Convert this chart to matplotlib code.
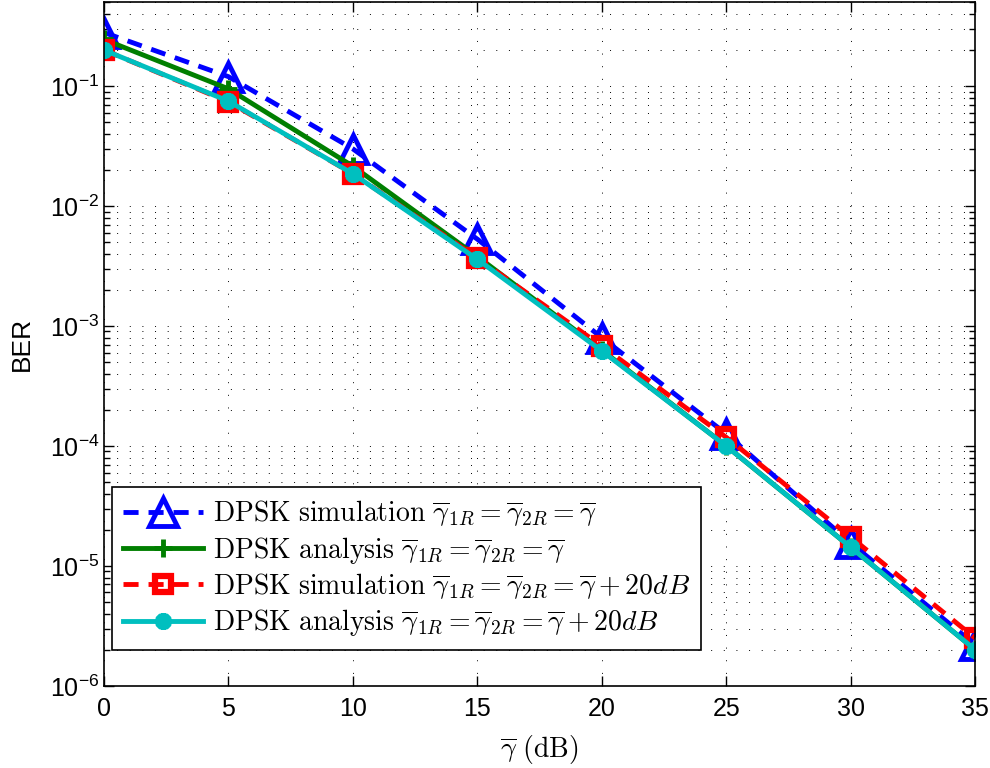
import numpy as np
import matplotlib
matplotlib.use("Agg")
import matplotlib.pyplot as plt
from matplotlib.font_manager import FontProperties
from matplotlib.ticker import LogLocator, NullFormatter

# average SNR (dB) and BER values
snr_db = [0, 5, 10, 15, 20, 25, 30, 35]
sim_equal = [0.28, 0.12, 0.030, 5.3e-3, 8.0e-4, 1.26e-4, 1.55e-5, 2.2e-6]
ana_equal = [0.245, 0.095, 0.0215, 3.8e-3, 6.3e-4, 1.0e-4, 1.43e-5, 2.0e-6]
sim_20db = [0.20, 0.074, 0.0186, 3.7e-3, 6.8e-4, 1.18e-4, 1.74e-5, 2.5e-6]
ana_20db = [0.20, 0.075, 0.0186, 3.6e-3, 6.2e-4, 1.0e-4, 1.43e-5, 2.0e-6]

labels = [
    r'$\mathrm{DPSK\ simulation}\ \overline{\gamma}_{1R}=\overline{\gamma}_{2R}=\overline{\gamma}$',
    r'$\mathrm{DPSK\ analysis}\ \overline{\gamma}_{1R}=\overline{\gamma}_{2R}=\overline{\gamma}$',
    r'$\mathrm{DPSK\ simulation}\ \overline{\gamma}_{1R}=\overline{\gamma}_{2R}=\overline{\gamma}+20dB$',
    r'$\mathrm{DPSK\ analysis}\ \overline{\gamma}_{1R}=\overline{\gamma}_{2R}=\overline{\gamma}+20dB$',
]

plt.rcParams['font.family'] = ['Liberation Sans', 'DejaVu Sans']
plt.rcParams['mathtext.fontset'] = 'custom'
plt.rcParams['mathtext.rm'] = 'Liberation Sans'

fig = plt.figure(figsize=(9.9, 7.68), dpi=100)
ax = fig.add_axes([0.105, 0.107, 0.880, 0.890])

lw = 3.5
dash = (3.1, 2.05)
ax.plot(snr_db, sim_equal, color='b', lw=lw, dashes=dash, marker='^',
        ms=20, mew=lw, mfc='none', label=labels[0])
ax.plot(snr_db, ana_equal, color='#007f00', lw=lw, marker='+',
        ms=13, mew=lw, label=labels[1])
ax.plot(snr_db, sim_20db, color='r', lw=lw, dashes=dash, marker='s',
        ms=11, mew=4.5, mfc='none', label=labels[2])
ax.plot(snr_db, ana_20db, color='#00bfbf', lw=lw, marker=(8, 2, 0),
        ms=12, mew=4, label=labels[3])

ax.set_yscale('log')
ax.set_xlim(0, 35)
ax.set_ylim(1e-6, 0.5)
ax.set_xticks(np.arange(0, 36, 5))
ax.yaxis.set_major_locator(LogLocator(base=10, numticks=10))
ax.yaxis.set_minor_locator(LogLocator(base=10, subs=np.arange(2, 10), numticks=100))
ax.yaxis.set_minor_formatter(NullFormatter())

ax.tick_params(which='both', direction='in', top=True, right=True, labelsize=18)
ax.tick_params(which='major', length=7, width=1)
ax.tick_params(which='minor', length=4, width=1)
ax.tick_params(axis='x', pad=8)
for s in ax.spines.values():
    s.set_linewidth(1.2)

dot = (0, (1.0, 12))
ax.grid(True, which='major', axis='both', color='k', lw=0.7, linestyle=dot)
ax.grid(True, which='minor', axis='y', color='k', lw=0.7, linestyle=dot)
ax.set_axisbelow(True)

ax.set_ylabel('BER', fontsize=19, labelpad=11)
ax.set_xlabel(r'$\overline{\gamma}\ \mathrm{(dB)}$', fontsize=20, math_fontfamily='cm',
              labelpad=9)

leg_font = FontProperties(size=20, math_fontfamily='cm')
leg = ax.legend(loc='lower left', bbox_to_anchor=(0.009, 0.053), prop=leg_font,
                numpoints=1, handlelength=2.9, fancybox=False, framealpha=1,
                edgecolor='k', borderaxespad=0, labelspacing=0.2,
                handletextpad=0.35, borderpad=0.4)
leg.get_frame().set_linewidth(1.2)

fig.savefig('out.png', dpi=100)
